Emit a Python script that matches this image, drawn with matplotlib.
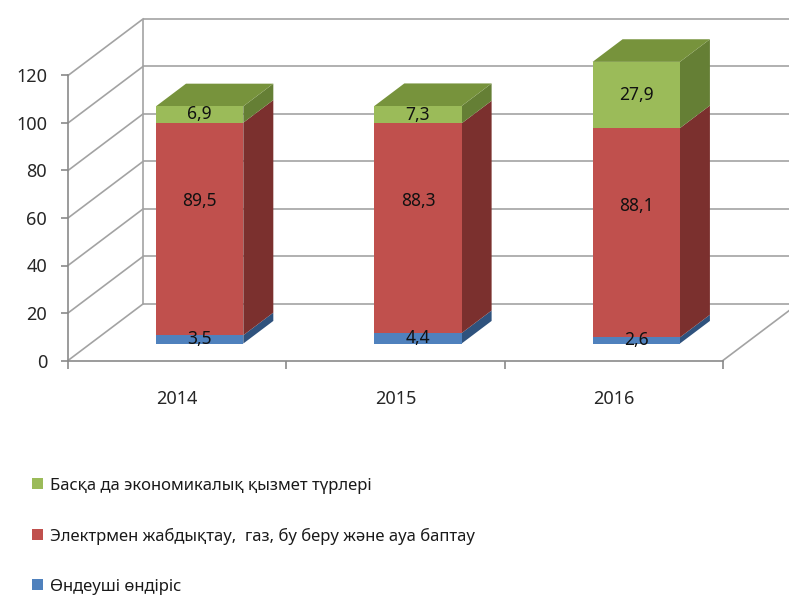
import matplotlib
matplotlib.use("Agg")
import matplotlib.pyplot as plt
from matplotlib.patches import Polygon, Patch

plt.rcParams['font.family'] = ['Noto Sans', 'DejaVu Sans']

years = ["2014", "2015", "2016"]
manufacturing = [3.5, 4.4, 2.6]
electricity = [89.5, 88.3, 88.1]
other = [6.9, 7.3, 27.9]
series_names = ["Өндеуші өндіріс",
                "Электрмен жабдықтау,  газ, бу беру және ауа баптау",
                "Басқа да экономикалық қызмет түрлері"]
y_ticks = [0, 20, 40, 60, 80, 100, 120]

front = ["#4f81bd", "#c0504d", "#9bbb59"]
side = ["#2f527d", "#7b302e", "#657f35"]
top = ["#3d6699", "#9a3e3b", "#77933c"]
grid_c = "#a3a3a3"
axis_c = "#8a8a8a"

# fake 3D: depth vector in data units
DX, DY = 0.3436, 23.8
BAR_W, BAR_OFF, BAR_D = 0.4, 0.30, 0.40

fig = plt.figure(figsize=(7.89, 6.01), dpi=100)
ax = fig.add_axes([0, 0, 1, 1])
ax.set_xlim(-68 / 218.3, (789 - 68) / 218.3)
ax.set_ylim((360.5 - 601) / 2.375, 360.5 / 2.375)

# walls
ymax = y_ticks[-1]
ax.hlines([t + DY for t in y_ticks], DX, 3 + DX, color=grid_c, lw=1.2, zorder=1)
for t in y_ticks:
    ax.plot([0, DX], [t, t + DY], color=grid_c, lw=1.2, zorder=1)
ax.vlines(DX, DY, ymax + DY, color=grid_c, lw=1.2, zorder=1)
ax.plot([3, 3 + DX], [0, DY], color=grid_c, lw=1.2, zorder=1)

# bars
for i in range(len(years)):
    vals = [manufacturing[i], electricity[i], other[i]]
    x0 = i + 0.5 - BAR_W / 2 + BAR_OFF * DX
    bottom = 0
    for k, h in enumerate(vals):
        y0 = bottom + BAR_OFF * DY
        ddx, ddy = BAR_D * DX, BAR_D * DY
        ax.add_patch(Polygon([(x0 + BAR_W, y0), (x0 + BAR_W + ddx, y0 + ddy),
                              (x0 + BAR_W + ddx, y0 + h + ddy), (x0 + BAR_W, y0 + h)],
                             closed=True, fc=side[k], ec="none", zorder=3))
        if k == len(vals) - 1:
            ax.add_patch(Polygon([(x0, y0 + h), (x0 + BAR_W, y0 + h),
                                  (x0 + BAR_W + ddx, y0 + h + ddy), (x0 + ddx, y0 + h + ddy)],
                                 closed=True, fc=top[k], ec="none", zorder=3))
        ax.bar(x0, h, BAR_W, bottom=y0, align="edge", color=front[k], zorder=4)
        lab_y = y0 + h * (0.63 if k == 1 else 0.5)
        ax.text(x0 + BAR_W / 2, lab_y, f"{h:.1f}".replace(".", ","),
                ha="center", va="center", fontsize=12.5, color="#111111", zorder=5)
        bottom += h

# axes
for s in ["top", "right"]:
    ax.spines[s].set_visible(False)
ax.spines["left"].set_position(("data", 0))
ax.spines["bottom"].set_position(("data", 0))
ax.spines["left"].set_bounds(0, ymax)
ax.spines["bottom"].set_bounds(0, 3)
for s in ["left", "bottom"]:
    ax.spines[s].set_color(axis_c)
    ax.spines[s].set_linewidth(1.2)
ax.set_yticks(y_ticks)
ax.set_yticklabels([str(t) for t in y_ticks])
ax.tick_params(axis="y", length=5, width=1.2, color=axis_c, pad=10,
               labelsize=13, labelcolor="#262626")
ax.set_xticks([0.5, 1.5, 2.5])
ax.set_xticklabels(years)
ax.set_xticks([0, 1, 2, 3], minor=True)
ax.tick_params(axis="x", which="major", length=0, pad=21, labelsize=13,
               labelcolor="#262626")
ax.tick_params(axis="x", which="minor", length=6, width=1.2, color=axis_c)

handles = [Patch(fc=front[k], ec="none", label=series_names[k]) for k in (2, 1, 0)]
fig.legend(handles=handles, loc="upper left", bbox_to_anchor=(0.03, 0.219),
           frameon=False, fontsize=12, handlelength=0.65, handleheight=0.65,
           handletextpad=0.4, labelspacing=2.04, borderpad=0, labelcolor="#1a1a1a")

fig.savefig("out.png", dpi=100)
